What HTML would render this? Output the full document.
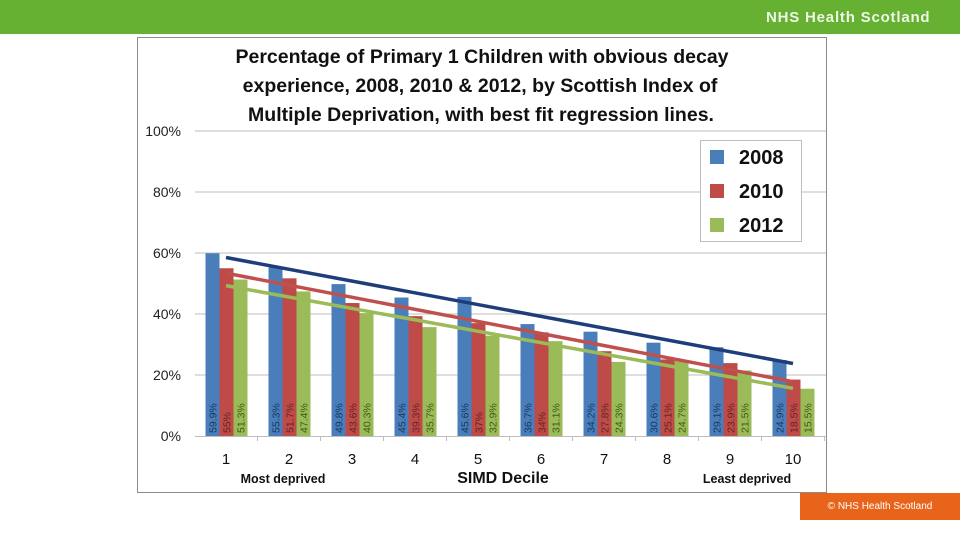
<!DOCTYPE html>
<html><head><meta charset="utf-8"><style>
body{margin:0;width:960px;height:540px;background:#fff;overflow:hidden;font-family:"Liberation Sans",sans-serif}
</style></head><body>
<div style="position:absolute;left:0;top:0;width:960px;height:34px;background:#66b032"></div>
<div style="position:absolute;left:766px;top:9px;color:#eef8e6;font-weight:bold;font-size:15px;letter-spacing:0.8px">NHS Health Scotland</div>
<div style="position:absolute;left:800px;top:493px;width:160px;height:27px;background:#e8641b;color:#fff;font-size:10px;line-height:27px;text-align:center">© NHS Health Scotland</div>
<svg id="chart" width="960" height="540" style="position:absolute;left:0;top:0">
<rect x="137.5" y="37.5" width="689" height="455" fill="#fff" stroke="#8c8c8c"/>
<g font-weight="bold" font-size="19.5" text-anchor="middle" fill="#111">
<text x="482" y="63">Percentage of Primary 1 Children with obvious decay</text>
<text x="480" y="92">experience, 2008, 2010 &amp; 2012, by Scottish Index of</text>
<text x="481" y="121">Multiple Deprivation, with best fit regression lines.</text>
</g>
</svg>
<script>
const categories=["1","2","3","4","5","6","7","8","9","10"];
const s2008=[59.9,55.3,49.8,45.4,45.6,36.7,34.2,30.6,29.1,24.9];
const s2010=[55,51.7,43.6,39.3,37,34,27.8,25.1,23.9,18.5];
const s2012=[51.3,47.4,40.3,35.7,32.9,31.1,24.3,24.7,21.5,15.5];
const labels2008=["59.9%","55.3%","49.8%","45.4%","45.6%","36.7%","34.2%","30.6%","29.1%","24.9%"];
const labels2010=["55%","51.7%","43.6%","39.3%","37%","34%","27.8%","25.1%","23.9%","18.5%"];
const labels2012=["51.3%","47.4%","40.3%","35.7%","32.9%","31.1%","24.3%","24.7%","21.5%","15.5%"];
const yTicks=[0,20,40,60,80,100];
const seriesNames=["2008","2010","2012"];
const NS="http://www.w3.org/2000/svg";
const svg=document.getElementById("chart");
const y=v=>436-v*3.05;
const xc=i=>226+i*63;
function mk(t,a,p){const e=document.createElementNS(NS,t);for(const k in a)e.setAttribute(k,a[k]);(p||svg).appendChild(e);return e;}
yTicks.forEach(v=>{
 if(v>0){const g=mk("line",{x1:195,x2:826,y1:y(v),y2:y(v),stroke:"#bdbdbd"});
 
 }
 const t=mk("text",{x:181,y:y(v)+5,"text-anchor":"end","font-size":14,fill:"#222"});t.textContent=v+"%";
 
 
});
mk("line",{x1:195,x2:826,y1:436.5,y2:436.5,stroke:"#bdbdbd"});
categories.forEach((c,i)=>{
 mk("line",{x1:xc(i)+31.5,x2:xc(i)+31.5,y1:436,y2:441,stroke:"#bdbdbd"});
 const t=mk("text",{x:xc(i),y:464,"text-anchor":"middle","font-size":15,fill:"#111"});t.textContent=c;
 
 
});
const series=[[s2008,labels2008,"#4a7ebb","#17365d"],[s2010,labels2010,"#be4b48","#632423"],[s2012,labels2012,"#9bbb59","#3d5a14"]];
series.forEach((s,k)=>{
 s[0].forEach((v,i)=>{
  const bx=xc(i)-20.5+k*14;
  const r=mk("rect",{x:bx,y:y(v),width:14,height:436-y(v),fill:s[2]});
  
  
  const t=mk("text",{transform:`translate(${bx+11},433) rotate(-90)`,"font-size":10.5,fill:s[3]});t.textContent=s[1][i];
  
  
 });
});
series.forEach((s,k)=>{
 const n=s[0].length;let sx=0,sy=0,sxx=0,sxy=0;
 s[0].forEach((v,i)=>{sx+=i;sy+=v;sxx+=i*i;sxy+=i*v;});
 const b=(n*sxy-sx*sy)/(n*sxx-sx*sx),a=(sy-b*sx)/n;
 const l=mk("line",{x1:xc(0),y1:y(a),x2:xc(n-1),y2:y(a+b*(n-1)),stroke:["#1f3d7a","#c0504d","#9bbb59"][k],"stroke-width":3.5});
 
 
});
const lg=mk("rect",{x:700.5,y:140.5,width:101,height:101,fill:"#fff",stroke:"#bdbdbd"});


seriesNames.forEach((nm,k)=>{
 mk("rect",{x:710,y:150+k*34,width:14,height:14,fill:series[k][2]});
 const t=mk("text",{x:739,y:164+k*34,"font-size":20,"font-weight":"bold",fill:"#111"});t.textContent=nm;
 
 
});
[["Most deprived",283,483,12.5],["SIMD Decile",503,483,16],["Least deprived",747,483,12.5]].forEach(d=>{
 const t=mk("text",{x:d[1],y:d[2],"text-anchor":"middle","font-size":d[3],"font-weight":"bold",fill:"#111"});t.textContent=d[0];
 
 
});
</script>
</body></html>
